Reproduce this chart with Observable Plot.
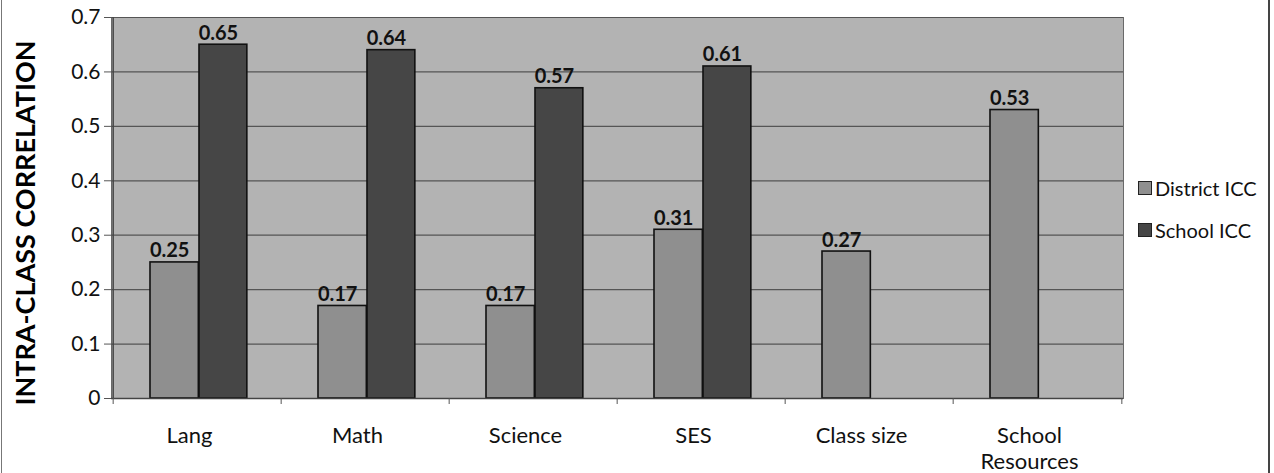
<!DOCTYPE html>
<html>
<head>
<meta charset="utf-8">
<script src="https://cdn.jsdelivr.net/npm/d3@7"></script>
<script src="https://cdn.jsdelivr.net/npm/@observablehq/plot@0.6"></script>
<style>
  html, body { margin: 0; padding: 0; background: #fff; }
  #wrap { position: relative; width: 1274px; height: 473px; overflow: hidden; font-family: Lato, "Noto Sans", sans-serif; }
  #wrap svg { display: block; }
  .bl { position: absolute; top: 0; width: 1px; height: 473px; background: #777; left: 1px; }
  .br { position: absolute; top: 0; width: 2px; height: 473px; background: #444; left: 1268px; }
  .legend { position: absolute; left: 1138px; top: 176px; font-size: 20px; color: #111; }
  .legend div { display: flex; align-items: center; height: 24px; margin-bottom: 18px; }
  .legend span.sw { display: inline-block; width: 14px; height: 14px; border: 1.5px solid #222; margin-right: 3px; box-sizing: border-box; }
</style>
</head>
<body>
<div id="wrap"></div>
<script>
const categories = ["Lang", "Math", "Science", "SES", "Class size", "School Resources"];
const districtICC = [0.25, 0.17, 0.17, 0.31, 0.27, 0.53];
const schoolICC = [0.65, 0.64, 0.57, 0.61, null, null];
const yTicks = [0, 0.1, 0.2, 0.3, 0.4, 0.5, 0.6, 0.7];
const seriesNames = ["District ICC", "School ICC"];
const seriesColors = ["#8f8f8f", "#464646"];

const W = 1274, H = 473;
const mL = 111, mR = 151, mT = 17, mB = 75;
const bw = (W - mL - mR) / categories.length;
// bar slots within a band (px)
const dStart = 37, dEnd = 86, sStart = 86, sEnd = 134.5;

const district = categories.map((c, i) => ({cat: c, v: districtICC[i]}));
const school = categories.map((c, i) => ({cat: c, v: schoolICC[i]})).filter(d => d.v != null);

const fmt2 = d => d.toFixed(2);

const plot = Plot.plot({
  width: W, height: H,
  marginLeft: mL, marginRight: mR, marginTop: mT, marginBottom: mB,
  style: {fontFamily: "Lato, 'Noto Sans', sans-serif", background: "transparent", color: "#111"},
  x: {domain: categories, padding: 0, axis: null},
  y: {type: "linear", domain: [0, 0.7], axis: null},
  marks: [
    Plot.frame({fill: "#b3b3b3", stroke: "#6a6a6a"}),
    Plot.gridY(yTicks.filter(t => t > 0), {stroke: "#555", strokeOpacity: 1, strokeWidth: 1.2}),
    Plot.barY(district, {x: "cat", y: "v", fill: seriesColors[0], stroke: "#111", strokeWidth: 1.6,
      insetLeft: dStart, insetRight: bw - dEnd}),
    Plot.barY(school, {x: "cat", y: "v", fill: seriesColors[1], stroke: "#111", strokeWidth: 1.6,
      insetLeft: sStart, insetRight: bw - sEnd}),
    Plot.text(district, {x: "cat", y: "v", text: d => fmt2(d.v), dx: (dStart + dEnd) / 2 - bw / 2 - 5, dy: -5,
      lineAnchor: "bottom", fontSize: 20, fontWeight: "bold", fill: "#111"}),
    Plot.text(school, {x: "cat", y: "v", text: d => fmt2(d.v), dx: (sStart + sEnd) / 2 - bw / 2 - 5, dy: -5,
      lineAnchor: "bottom", fontSize: 20, fontWeight: "bold", fill: "#111"}),
    Plot.ruleY([0], {stroke: "#444", strokeWidth: 1.5}),
    // boundary ticks below the axis
    Plot.ruleX(categories, {x: d => d, y1: 0, y2: 0, dx: -bw / 2, insetBottom: -6, stroke: "#555", strokeWidth: 1}),
    Plot.ruleX([categories[categories.length - 1]], {x: d => d, y1: 0, y2: 0, dx: bw / 2, insetBottom: -6, stroke: "#555", strokeWidth: 1}),
    Plot.ruleX([categories[0]], {x: d => d, dx: -bw / 2, stroke: "#444", strokeWidth: 1.5}),
    Plot.axisY({ticks: yTicks, tickSize: 7, tickPadding: 4, fontSize: 21, stroke: "#555",
      tickFormat: d => d === 0 ? "0" : d.toFixed(1), label: null}),
    Plot.axisX({tickSize: 0, tickPadding: 27, fontSize: 22, lineWidth: 6, lineHeight: 1.15, label: null, dx: -8}),
    Plot.text(["INTRA-CLASS CORRELATION"], {frameAnchor: "left", dx: -85, dy: 15, rotate: -90,
      textAnchor: "middle", fontSize: 27, fontWeight: "bold", fill: "#000", text: d => d})
  ]
});

document.getElementById("wrap").appendChild(plot);

const wrap = document.getElementById("wrap");
const bl = document.createElement("div"); bl.className = "bl"; wrap.appendChild(bl);
const br = document.createElement("div"); br.className = "br"; wrap.appendChild(br);
const lg = document.createElement("div"); lg.className = "legend";
seriesNames.forEach((n, i) => {
  const row = document.createElement("div");
  const sw = document.createElement("span"); sw.className = "sw"; sw.style.background = seriesColors[i];
  row.appendChild(sw);
  row.appendChild(document.createTextNode(n));
  lg.appendChild(row);
});
wrap.appendChild(lg);
</script>
</body>
</html>
